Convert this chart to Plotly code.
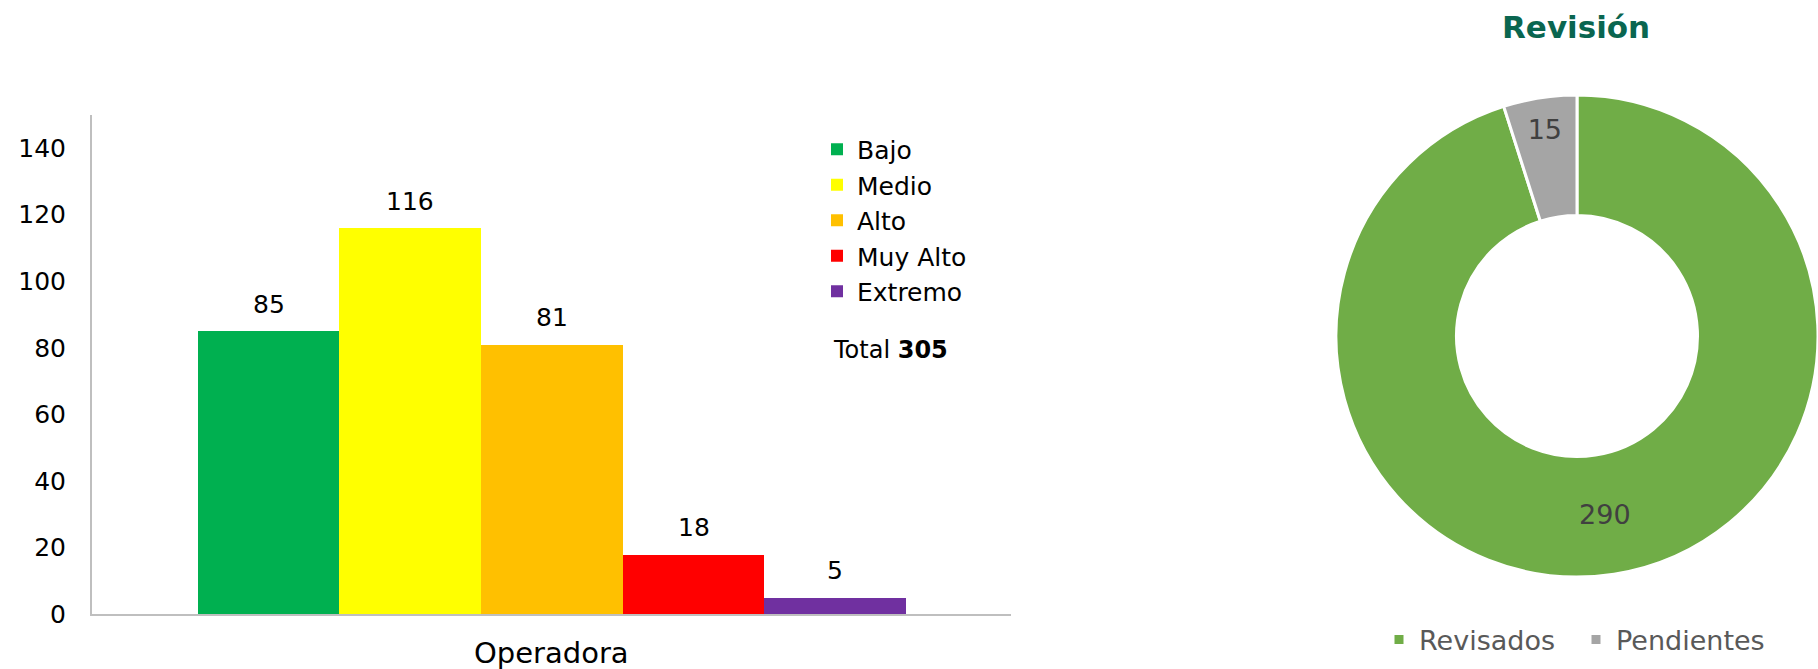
import plotly.graph_objects as go

# --- risk levels (bar chart) ---
levels = ["Bajo", "Medio", "Alto", "Muy Alto", "Extremo"]
counts = [85, 116, 81, 18, 5]
level_colors = ["#00B050", "#FFFF00", "#FFC000", "#FF0000", "#7030A0"]
group_label = "Operadora"
total_count = 305
y_ticks = [0, 20, 40, 60, 80, 100, 120, 140]

# --- review status (donut) ---
review_title = "Revisión"
review_labels = ["Revisados", "Pendientes"]
review_values = [290, 15]
review_colors = ["#70AD47", "#A5A5A5"]

W, H = 1818, 669
FONT = "DejaVu Sans"
INK = "#000000"
AXIS = "#BFBFBF"

# donut geometry in page pixels (touches the right edge of the page)
PIE_R = 241
PIE_CX = W - PIE_R
PIE_CY = 336


def fx(p):
    return p / W


def fy(p):
    return 1 - p / H


fig = go.Figure()

for name, val, col in zip(levels, counts, level_colors):
    fig.add_trace(go.Bar(
        x=[name], y=[val], name=name,
        marker=dict(color=col, line=dict(width=0)),
        legend="legend",
    ))

fig.add_trace(go.Pie(
    labels=review_labels, values=review_values,
    hole=0.5, sort=False, direction="clockwise", rotation=0,
    marker=dict(colors=review_colors, line=dict(color="white", width=3)),
    textinfo="value", textposition="inside",
    insidetextorientation="horizontal",
    textfont=dict(family=FONT, size=27, color="#404040"),
    domain=dict(x=[fx(PIE_CX - PIE_R), 1.0],
                y=[fy(PIE_CY + PIE_R), fy(PIE_CY - PIE_R)]),
    legend="legend2",
))

annotations = []
for name, val in zip(levels, counts):
    annotations.append(dict(
        x=name, y=val, xref="x", yref="y", text=str(val),
        showarrow=False, yanchor="middle", yshift=27,
        font=dict(family=FONT, size=25, color=INK),
    ))

annotations += [
    dict(x=0.5, xref="x domain", y=fy(653), yref="paper", text=group_label,
         showarrow=False, xanchor="center", yanchor="middle",
         font=dict(family=FONT, size=29, color=INK)),
    dict(x=fx(831), xref="paper", y=fy(350), yref="paper",
         text=f"Total <b>{total_count}</b>",
         showarrow=False, xanchor="left", yanchor="middle",
         font=dict(family=FONT, size=24, color=INK)),
    dict(x=fx(1576), xref="paper", y=fy(27), yref="paper",
         text=f"<b>{review_title}</b>",
         showarrow=False, xanchor="center", yanchor="middle",
         font=dict(family=FONT, size=31, color="#0A6650")),
]

fig.update_layout(
    width=W, height=H,
    margin=dict(l=0, r=0, t=0, b=0, autoexpand=False),
    paper_bgcolor="white", plot_bgcolor="white",
    barmode="overlay", bargap=0,
    font=dict(family=FONT, color=INK),
    xaxis=dict(
        domain=[fx(92), fx(1010.7)], range=[-1.246, 5.239],
        showticklabels=False, ticks="", showgrid=False, zeroline=False,
        showline=True, linecolor=AXIS, linewidth=2, automargin=False,
    ),
    yaxis=dict(
        domain=[fy(614.3), fy(114.8)], range=[0, 150],
        tickvals=y_ticks, ticks="", showgrid=False, zeroline=False,
        showline=True, linecolor=AXIS, linewidth=2, automargin=False,
        ticklabelstandoff=19,
        tickfont=dict(family=FONT, size=25, color=INK),
    ),
    legend=dict(
        x=fx(817), y=fy(126.5), xanchor="left", yanchor="top",
        font=dict(family=FONT, size=25, color=INK),
        bgcolor="rgba(0,0,0,0)", traceorder="normal",
    ),
    legend2=dict(
        orientation="h", x=fx(1379), xanchor="left",
        y=fy(640), yanchor="middle",
        entrywidth=152, entrywidthmode="pixels",
        font=dict(family=FONT, size=27, color="#595959"),
        bgcolor="rgba(0,0,0,0)",
    ),
    annotations=annotations,
    showlegend=True,
)

fig.write_html("out.html")
